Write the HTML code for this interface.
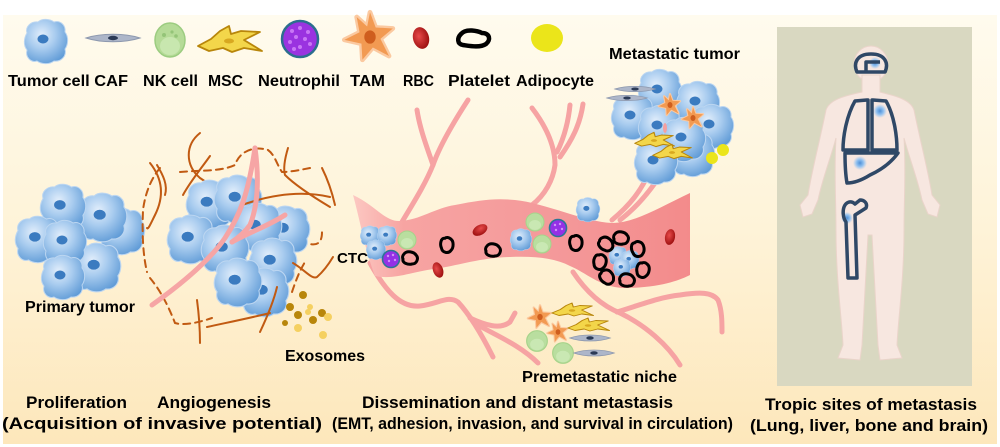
<!DOCTYPE html>
<html>
<head>
<meta charset="utf-8">
<style>
html,body{margin:0;padding:0;background:#fff;}
svg{display:block;}
text{font-family:"Liberation Sans",Arial,sans-serif;font-weight:bold;fill:#000;}
</style>
</head>
<body>
<svg width="1000" height="447" viewBox="0 0 1000 447" xmlns="http://www.w3.org/2000/svg">
<defs>
  <linearGradient id="bg" x1="0" y1="0" x2="0" y2="1">
    <stop offset="0" stop-color="#fffbee"/>
    <stop offset="0.5" stop-color="#fef3d8"/>
    <stop offset="1" stop-color="#fde7bb"/>
  </linearGradient>
  <radialGradient id="gtc" cx="0.4" cy="0.35" r="0.7">
    <stop offset="0" stop-color="#e2eefb"/>
    <stop offset="0.45" stop-color="#a9ccef"/>
    <stop offset="1" stop-color="#5e9ad6"/>
  </radialGradient>
  <linearGradient id="ves" x1="0" y1="0" x2="1" y2="0">
    <stop offset="0" stop-color="#fcc8c2"/>
    <stop offset="0.15" stop-color="#f7a4a2"/>
    <stop offset="0.6" stop-color="#f4999a"/>
    <stop offset="1" stop-color="#f38b8b"/>
  </linearGradient>
  <radialGradient id="grbc" cx="0.4" cy="0.4" r="0.6">
    <stop offset="0" stop-color="#e84a4a"/>
    <stop offset="1" stop-color="#a01212"/>
  </radialGradient>
  <radialGradient id="gspot" cx="0.5" cy="0.5" r="0.5">
    <stop offset="0" stop-color="#4f8fd6"/>
    <stop offset="0.5" stop-color="#8fc0f0"/>
    <stop offset="1" stop-color="#9cc8f2" stop-opacity="0"/>
  </radialGradient>
  <g id="tc">
    <path d="M -19,-9 C -21,-15 -15,-21 -8,-20 C -4,-24 4,-23 8,-20 C 14,-22 20,-17 19,-10 C 23,-5 22,3 19,7 C 21,14 15,20 8,19 C 3,23 -5,22 -9,19 C -15,21 -21,15 -19,8 C -23,3 -22,-4 -19,-9 Z" fill="url(#gtc)" stroke="#bcd6f1" stroke-width="1"/>
    <ellipse cx="-3" cy="-3" rx="5.5" ry="4.5" fill="#3b7bc0"/>
  </g>
  <path id="pl" d="M -6,-4 C -3,-8 4,-6 6,-3 C 9,0 7,6 2,6 C -2,7 -8,5 -7,1 C -8,-1 -7,-3 -6,-4 Z" fill="none" stroke="#000" stroke-width="3"/>
  <ellipse id="rbc" rx="5" ry="8" fill="url(#grbc)"/>
  <g id="nk">
    <circle r="9" fill="#b9de9f" stroke="#a6d38a" stroke-width="1"/>
    <ellipse cx="0" cy="3" rx="6" ry="5" fill="#c9e8b3"/>
  </g>
  <g id="ne">
    <circle r="8.5" fill="#9530e6" stroke="#2d7595" stroke-width="1.6"/>
    <circle cx="-3" cy="-3" r="1.2" fill="#d090f8"/>
    <circle cx="2" cy="-4" r="1.2" fill="#d090f8"/>
    <circle cx="4" cy="1" r="1.2" fill="#d090f8"/>
    <circle cx="-2" cy="2" r="1.2" fill="#d090f8"/>
  </g>
  <g id="tam">
    <path d="M 0,-26 L 6,-10 L 24,-9 L 11,2 L 20,20 L 3,11 L -8,24 L -9,7 L -27,3 L -11,-5 L -14,-21 L -3,-11 Z" fill="#f29a52" stroke="#fbc9a0" stroke-width="5" stroke-linejoin="round" paint-order="stroke"/>
    <ellipse rx="6" ry="7" fill="#cf5e1e"/>
  </g>
  <g id="msc">
    <path d="M -31,6 L -18,-1 L -9,-9 L 0,-14 L 2,-6 L 12,-9 L 31,-8 L 15,0 L 33,11 L 15,8 L 3,12 L -6,8 L -20,11 Z" fill="#f3d64a" stroke="#b8860b" stroke-width="1.8" stroke-linejoin="round"/>
    <ellipse cx="0" cy="1" rx="5" ry="2.5" fill="#d8a820"/>
  </g>
  <g id="caf">
    <path d="M -27,0 C -12,-5 12,-5 27,0 C 12,5 -12,5 -27,0 Z" fill="#adb6c9" stroke="#8d98ae" stroke-width="1"/>
    <ellipse rx="5" ry="2.2" fill="#2b3a56"/>
  </g>
</defs>

<!-- background -->
<rect x="0" y="0" width="1000" height="447" fill="#fff"/>
<rect x="3" y="15" width="994" height="429" fill="url(#bg)"/>

<!-- ===== Legend ===== -->
<use href="#tc" transform="translate(46,42)"/>
<use href="#caf" transform="translate(113,38)"/>
<g transform="translate(170,40)">
  <ellipse rx="15" ry="17" fill="#b5db97" stroke="#9ccc80" stroke-width="1.5"/>
  <ellipse cx="0" cy="6" rx="10" ry="9" fill="#c8e7af"/>
  <circle cx="-6" cy="-5" r="2" fill="#94c478"/>
  <circle cx="2" cy="-8" r="1.6" fill="#94c478"/>
  <circle cx="6" cy="-4" r="1.8" fill="#94c478"/>
</g>
<use href="#msc" transform="translate(229,40)"/>
<g transform="translate(300,39)">
  <circle r="18" fill="#9a33e0" stroke="#2c6e8e" stroke-width="2.5"/>
  <circle cx="-8" cy="-8" r="2" fill="#c878f5"/><circle cx="0" cy="-11" r="2" fill="#c878f5"/>
  <circle cx="8" cy="-7" r="2" fill="#c878f5"/><circle cx="-4" cy="-2" r="2" fill="#c878f5"/>
  <circle cx="5" cy="0" r="2" fill="#c878f5"/><circle cx="-10" cy="3" r="2" fill="#c878f5"/>
  <circle cx="10" cy="5" r="2" fill="#c878f5"/><circle cx="0" cy="8" r="2" fill="#c878f5"/>
  <circle cx="-6" cy="10" r="2" fill="#c878f5"/>
</g>
<use href="#tam" transform="translate(370,37) scale(0.95)"/>
<ellipse cx="421" cy="38" rx="8" ry="11" fill="url(#grbc)" transform="rotate(-15 421 38)"/>
<path d="M 461,34 C 466,28 478,31 482,33 C 490,33 491,40 486,44 C 480,48 470,46 463,45 C 457,44 457,38 461,34 Z" fill="none" stroke="#000" stroke-width="4.5"/>
<ellipse cx="547" cy="38" rx="16" ry="14" fill="#ebe51a"/>

<text x="8" y="86" font-size="16" textLength="120" lengthAdjust="spacingAndGlyphs">Tumor cell CAF</text>
<text x="143" y="86" font-size="16" textLength="55" lengthAdjust="spacingAndGlyphs">NK cell</text>
<text x="208" y="86" font-size="16" textLength="35" lengthAdjust="spacingAndGlyphs">MSC</text>
<text x="258" y="86" font-size="16" textLength="82" lengthAdjust="spacingAndGlyphs">Neutrophil</text>
<text x="350" y="86" font-size="16" textLength="35" lengthAdjust="spacingAndGlyphs">TAM</text>
<text x="403" y="86" font-size="16" textLength="31" lengthAdjust="spacingAndGlyphs">RBC</text>
<text x="448" y="86" font-size="16" textLength="62" lengthAdjust="spacingAndGlyphs">Platelet</text>
<text x="516" y="86" font-size="16" textLength="78" lengthAdjust="spacingAndGlyphs">Adipocyte</text>

<!-- ===== Primary tumor ===== -->
<use href="#tc" transform="translate(122,232) scale(1.05)"/>
<use href="#tc" transform="translate(103,218) scale(1.1)"/>
<use href="#tc" transform="translate(63,208) scale(1.05)"/>
<use href="#tc" transform="translate(38,240) scale(1.05)"/>
<use href="#tc" transform="translate(97,268) scale(1.1)"/>
<use href="#tc" transform="translate(65,243) scale(1.0)"/>
<use href="#tc" transform="translate(63,278) scale(1.0)"/>
<text x="25" y="312" font-size="16" textLength="110" lengthAdjust="spacingAndGlyphs">Primary tumor</text>

<!-- ===== Angiogenesis ===== -->
<g fill="none" stroke="#c15a12" stroke-width="2" stroke-dasharray="7 5" stroke-linecap="round">
  <path d="M 160,168 C 150,180 145,195 143,210 C 142,235 143,255 147,272"/>
  <path d="M 150,278 C 160,290 168,305 175,323 C 185,326 200,322 212,318"/>
  <path d="M 180,172 C 200,170 220,172 235,165 C 240,150 255,146 268,150 C 275,155 277,165 282,172 C 290,172 300,170 310,168"/>
  <path d="M 300,240 C 315,248 322,245 322,232"/>
  <path d="M 292,292 C 296,280 300,270 305,262"/>
</g>
<g fill="none" stroke="#c15a12" stroke-width="2" stroke-linecap="round">
  <path d="M 200,133 C 185,145 185,165 200,178 C 210,185 220,190 232,192"/>
  <path d="M 210,156 C 200,170 190,182 183,195"/>
  <path d="M 157,165 C 163,175 168,185 165,195"/>
  <path d="M 150,163 C 162,178 165,195 155,215 C 150,225 148,230 147,228"/>
  <path d="M 288,148 C 285,158 283,168 285,175 C 295,185 310,195 330,207"/>
  <path d="M 322,168 C 328,180 332,192 335,205"/>
</g>
<use href="#tc" transform="translate(210,205) scale(1.1)"/>
<use href="#tc" transform="translate(238,200) scale(1.1)"/>
<use href="#tc" transform="translate(286,231) scale(1.1)"/>
<use href="#tc" transform="translate(258,228) scale(1.1)"/>
<use href="#tc" transform="translate(191,240) scale(1.1)"/>
<use href="#tc" transform="translate(273,263) scale(1.1)"/>
<use href="#tc" transform="translate(225,250) scale(1.1)"/>
<use href="#tc" transform="translate(265,293) scale(1.1)"/>
<use href="#tc" transform="translate(238,283) scale(1.1)"/>
<g fill="none" stroke="#c15a12" stroke-width="2" stroke-linecap="round">
  <path d="M 242,205 C 270,195 300,190 330,197"/>
  <path d="M 197,300 C 199,315 200,330 200,343"/>
  <path d="M 207,327 C 230,322 250,318 270,313"/>
  <path d="M 260,332 C 268,315 274,300 277,287"/>
  <path d="M 293,263 C 305,270 312,280 317,277 C 325,270 330,262 333,257"/>
</g>
<g fill="none" stroke="#f6a5a5" stroke-width="5" stroke-linecap="round">
  <path d="M 152,305 C 180,285 210,260 225,238 C 240,215 248,195 255,148"/>
  <path d="M 255,148 C 258,170 260,200 250,225 C 245,232 238,238 232,242"/>
  <path d="M 232,242 C 250,232 270,225 285,215"/>
</g>
<!-- exosomes -->
<g>
  <circle cx="303" cy="295" r="4" fill="#b8860b"/>
  <circle cx="290" cy="307" r="4" fill="#b8860b"/>
  <circle cx="310" cy="307" r="3" fill="#f5d060"/>
  <circle cx="298" cy="315" r="4" fill="#b8860b"/>
  <circle cx="322" cy="313" r="4" fill="#b8860b"/>
  <circle cx="313" cy="320" r="4" fill="#b8860b"/>
  <circle cx="328" cy="317" r="4" fill="#f5d060"/>
  <circle cx="285" cy="323" r="3" fill="#b8860b"/>
  <circle cx="298" cy="328" r="4" fill="#f5d060"/>
  <circle cx="323" cy="335" r="4" fill="#f5d060"/>
  <circle cx="308" cy="312" r="3" fill="#f5d060"/>
</g>
<text x="285" y="361" font-size="16" textLength="80" lengthAdjust="spacingAndGlyphs">Exosomes</text>

<!-- ===== Vessel branches ===== -->
<g fill="none" stroke="#f6a3a3" stroke-width="5" stroke-linecap="round">
  <path d="M 417,110 C 420,130 428,150 433,165"/>
  <path d="M 468,100 C 455,120 440,145 433,165 C 425,185 412,205 402,222"/>
  <path d="M 532,108 C 545,125 555,145 555,165 C 553,180 545,195 532,205"/>
  <path d="M 570,105 C 568,125 563,140 557,152"/>
  <path d="M 583,104 C 580,125 572,140 560,157"/>
  <path d="M 650,170 C 642,190 630,205 612,220"/>
  <path d="M 668,163 C 655,185 640,205 620,220"/>
  <path d="M 370,263 C 385,290 400,308 420,306 C 438,304 448,295 458,302 C 470,315 482,335 493,357"/>
  <path d="M 470,318 C 485,325 500,330 510,322 L 515,313"/>
  <path d="M 478,325 C 495,335 520,345 538,363"/>
  <path d="M 573,272 C 585,290 600,305 620,313 C 645,325 668,345 680,365"/>
  <path d="M 617,312 C 640,305 660,297 680,295 C 700,292 712,292 718,300 C 722,310 722,322 722,332"/>
</g>

<!-- ===== Vessel ===== -->
<path d="M 353,195 C 375,205 385,222 400,221 C 420,220 435,208 455,205 C 480,200 495,198 515,200 C 545,203 585,222 612,223 C 635,223 660,207 690,193 L 690,275 C 680,280 660,288 623,288 C 600,287 585,272 570,266 C 555,258 535,256 510,257 C 480,258 460,265 440,268 C 410,272 395,280 375,276 C 365,250 360,220 353,195 Z" fill="url(#ves)"/>

<!-- cells in vessel -->
<use href="#tc" transform="translate(370,236) scale(0.45)"/>
<use href="#tc" transform="translate(387,236) scale(0.45)"/>
<use href="#tc" transform="translate(376,250) scale(0.45)"/>
<use href="#nk" transform="translate(407,240)"/>
<use href="#ne" transform="translate(391,259)"/>
<use href="#pl" transform="translate(410,258)"/>
<use href="#pl" transform="translate(447,245) rotate(80)"/>
<use href="#pl" transform="translate(493,250)"/>
<use href="#pl" transform="translate(576,243) rotate(80)"/>
<use href="#rbc" transform="translate(480,230) rotate(60)"/>
<use href="#rbc" transform="translate(438,270) rotate(-20)"/>
<use href="#rbc" transform="translate(670,237) rotate(10)"/>
<use href="#tc" transform="translate(521,240) scale(0.5)"/>
<use href="#nk" transform="translate(535,222)"/>
<use href="#nk" transform="translate(542,244)"/>
<use href="#ne" transform="translate(558,228)"/>
<use href="#tc" transform="translate(588,210) scale(0.55)"/>
<use href="#tc" transform="translate(618,256) scale(0.42)"/>
<use href="#tc" transform="translate(630,260) scale(0.42)"/>
<use href="#tc" transform="translate(622,268) scale(0.4)"/>
<use href="#pl" transform="translate(606,244) rotate(30)"/>
<use href="#pl" transform="translate(621,238)"/>
<use href="#pl" transform="translate(638,249) rotate(70)"/>
<use href="#pl" transform="translate(643,270) rotate(90)"/>
<use href="#pl" transform="translate(627,280)"/>
<use href="#pl" transform="translate(607,277) rotate(40)"/>
<use href="#pl" transform="translate(600,262) rotate(90)"/>
<text x="337" y="263" font-size="15" textLength="31" lengthAdjust="spacingAndGlyphs">CTC</text>

<!-- ===== Metastatic tumor ===== -->
<use href="#tc" transform="translate(660,92)"/>
<use href="#tc" transform="translate(698,104)"/>
<use href="#tc" transform="translate(712,127)"/>
<use href="#tc" transform="translate(633,118)"/>
<use href="#tc" transform="translate(660,128)"/>
<use href="#tc" transform="translate(693,155)"/>
<use href="#tc" transform="translate(684,140)"/>
<use href="#tc" transform="translate(656,163)"/>
<use href="#caf" transform="translate(635,89) scale(0.75,0.7)"/>
<use href="#caf" transform="translate(627,98) scale(0.75,0.7)"/>
<use href="#tam" transform="translate(670,105) scale(0.42)"/>
<use href="#tam" transform="translate(693,118) scale(0.42)"/>
<ellipse cx="665" cy="128" rx="2" ry="5" fill="#f4a0a0"/>
<use href="#msc" transform="translate(654,140) scale(0.62,0.55)"/>
<use href="#msc" transform="translate(672,152) scale(0.62,0.55)"/>
<circle cx="712" cy="158" r="6" fill="#ebe51a"/>
<circle cx="723" cy="150" r="6" fill="#ebe51a"/>
<text x="609" y="59" font-size="16" textLength="131" lengthAdjust="spacingAndGlyphs">Metastatic tumor</text>

<!-- ===== Premetastatic niche ===== -->
<use href="#tam" transform="translate(540,317) scale(0.45)"/>
<use href="#msc" transform="translate(572,310) scale(0.65,0.5)"/>
<use href="#tam" transform="translate(558,332) scale(0.4)"/>
<use href="#msc" transform="translate(588,325) scale(0.65,0.5)"/>
<use href="#nk" transform="translate(537,341) scale(1.15)"/>
<use href="#caf" transform="translate(590,338) scale(0.75,0.8)"/>
<use href="#nk" transform="translate(563,353) scale(1.15)"/>
<use href="#caf" transform="translate(594,353) scale(0.75,0.8)"/>
<text x="522" y="382" font-size="16" textLength="155" lengthAdjust="spacingAndGlyphs">Premetastatic niche</text>

<!-- ===== Body panel ===== -->
<rect x="777" y="27" width="195" height="359" fill="#d9d8c1"/>
<g fill="#f7e7e0" stroke="#ead4ca" stroke-width="1">
  <ellipse cx="871" cy="64" rx="17" ry="18"/>
  <path d="M 862,75 L 862,92 C 850,95 830,98 826,110 C 820,140 812,170 808,195 L 800,205 L 803,217 L 812,214 L 818,200 C 822,180 830,160 836,138 C 834,170 836,200 836,230 C 836,280 842,320 843,345 L 838,358 L 860,360 L 862,345 C 864,310 866,270 868,235 L 872,235 C 874,270 876,310 878,345 L 880,360 L 902,358 L 897,345 C 898,320 904,280 904,230 C 904,200 906,170 904,138 C 910,160 918,180 922,200 L 928,214 L 937,217 L 940,205 L 932,195 C 928,170 920,140 914,110 C 910,98 890,95 880,92 L 880,75 Z"/>
</g>
<g fill="url(#gspot)">
  <circle cx="875" cy="63" r="6"/>
  <circle cx="880" cy="111" r="7"/>
  <circle cx="860" cy="163" r="7"/>
  <circle cx="847" cy="218" r="6"/>
</g>
<g fill="none" stroke="#2f4866" stroke-width="3.5" stroke-linejoin="round">
  <path d="M 857,72 C 853,63 857,54 871,54 C 885,54 889,63 885,72 Z"/>
  <path d="M 866,72 L 866,62 L 880,62"/>
  <path d="M 867,100 L 855,101 C 847,115 843,135 843,150 L 868,150 L 868,100 Z"/>
  <path d="M 873,100 L 886,101 C 894,115 897,135 897,150 L 872,150 L 872,100 Z"/>
  <path d="M 845,153 L 898,153 C 893,160 885,168 870,175 C 862,180 855,183 847,183 C 845,172 845,162 845,153 Z"/>
  <path d="M 845,205 C 842,210 843,218 846,222 L 848,278 L 857,278 L 855,215 L 866,208 C 868,203 864,200 860,200 L 855,204 C 852,201 848,201 845,205 Z"/>
</g>

<!-- ===== Bottom labels ===== -->
<text x="26" y="408" font-size="17" textLength="101" lengthAdjust="spacingAndGlyphs">Proliferation</text>
<text x="157" y="408" font-size="17" textLength="114" lengthAdjust="spacingAndGlyphs">Angiogenesis</text>
<text x="2" y="429" font-size="17" textLength="320" lengthAdjust="spacingAndGlyphs">(Acquisition of invasive potential)</text>
<text x="362" y="408" font-size="17" textLength="311" lengthAdjust="spacingAndGlyphs">Dissemination and distant metastasis</text>
<text x="332" y="429" font-size="17" textLength="401" lengthAdjust="spacingAndGlyphs">(EMT, adhesion, invasion, and survival in circulation)</text>
<text x="765" y="410" font-size="17" textLength="212" lengthAdjust="spacingAndGlyphs">Tropic sites of metastasis</text>
<text x="750" y="431" font-size="17" textLength="238" lengthAdjust="spacingAndGlyphs">(Lung, liver, bone and brain)</text>
</svg>
</body>
</html>
